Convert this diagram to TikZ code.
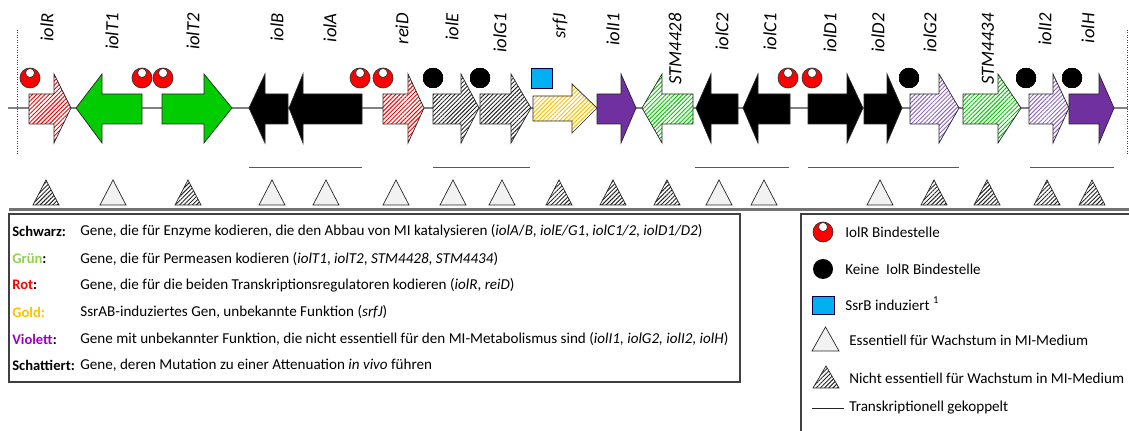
\documentclass[tikz,border=0pt]{standalone}
\usepackage{fontspec}
\setmainfont{Carlito}
\usetikzlibrary{patterns.meta}

\definecolor{genegreen}{HTML}{00CC00}
\definecolor{genered}{HTML}{FF0000}
\definecolor{genegold}{HTML}{FFC000}
\definecolor{genepurple}{HTML}{7030A0}
\definecolor{genelilac}{HTML}{8E6BBF}
\definecolor{ssrblue}{HTML}{00B0F0}
\definecolor{keygreen}{HTML}{92D050}
\definecolor{keyviolet}{HTML}{9900CC}
\definecolor{trigray}{HTML}{F2F2F2}

\tikzset{
  gene/.style={draw=black!85,line width=0.4pt},
  hatched/.style={preaction={fill=white},pattern={Lines[angle=45,distance=1.7pt,line width=0.55pt]},pattern color=#1},
  bindsite/.style={draw=black!80,fill=red},
  nobind/.style={fill=black},
  essent/.style={draw=black!85,fill=trigray},
  nonessent/.style={draw=black!85,hatched=black!85},
  coupled/.style={draw=black!65,line width=0.5pt},
  genelabel/.style={rotate=90,anchor=east,inner sep=0pt,font=\fontsize{10.6}{12}\selectfont\itshape},
  keytext/.style={anchor=west,inner sep=0pt,font=\fontsize{8.6}{10}\selectfont},
  keyword/.style={keytext,font=\fontsize{8.3}{10}\selectfont\bfseries},
}

% one gene: start of body, base of head, tip
\newcommand{\gene}[4][]{\draw[gene,#1] (#2,94) -- (#3,94) -- (#3,74) -- (#4,108) -- (#3,143) -- (#3,124) -- (#2,124) -- cycle;}
\newcommand{\iolrsite}[2]{\draw[bindsite] (#1,#2) circle (10); \draw[draw=black!80,fill=white] (#1,#2-5) circle (4.5);}

\begin{document}
\begin{tikzpicture}[x=0.02cm,y=-0.02cm]
\useasboundingbox (0,0) rectangle (1129,431);

% chromosome
\draw[black!50,line width=0.8pt] (8,108) -- (1128,108);
\draw[black!75,densely dotted] (17.7,30) -- (17.7,155);
\draw[black!75,densely dotted] (1127,30) -- (1127,155);

% genes
\gene[hatched=genered]{29}{54}{71}          % iolR
\gene[fill=genegreen]{142}{102}{76}         % iolT1
\gene[fill=genegreen]{162}{204}{232}        % iolT2
\gene[fill=black]{288}{265}{249}            % iolB
\gene[fill=black]{362}{303}{289}            % iolA
\gene[hatched=genered]{383}{408}{424}       % reiD
\gene[hatched=black!85]{433}{461}{479}      % iolE
\gene[hatched=black!85]{480}{511}{531}      % iolG1
\draw[gene,hatched=genegold] (533,96) -- (572,96) -- (572,84) -- (597,108) -- (572,133) -- (572,121) -- (533,121) -- cycle; % srfJ
\gene[fill=genepurple]{597}{621}{636}       % iolI1
\gene[hatched=genegreen]{693}{662}{642}     % STM4428
\gene[fill=black]{738}{711}{696}            % iolC2
\gene[fill=black]{790}{758}{743}            % iolC1
\gene[fill=black]{808}{847}{863}            % iolD1
\gene[fill=black]{864}{887}{902}            % iolD2
\gene[hatched=genelilac]{910}{939}{959}     % iolG2
\gene[hatched=genegreen]{963}{998}{1021}    % STM4434
\gene[hatched=genelilac]{1029}{1053}{1069}  % iolI2
\gene[fill=genepurple]{1069}{1099}{1114}    % iolH

% gene names
\foreach \name/\x in {iolR/47,iolT1/112,iolT2/193,iolB/277,iolA/330,reiD/402,iolE/452,iolG1/500,srfJ/560,iolI1/613,
  STM4428/675,iolC2/722,iolC1/770,iolD1/830,iolD2/878,iolG2/930,STM4434/988,iolI2/1045,iolH/1088}
  \node[genelabel] (l-\name) at (\x,13) {\name};

% binding sites
\foreach \x in {30,142,163,360,383,788,812} \iolrsite{\x}{78}
\foreach \x in {433,480,909,1026,1072} \fill[nobind] (\x,78) circle (10);
\draw[draw=black!70!blue,fill=ssrblue] (531,68) rectangle (552,88);

% operons
\draw[coupled] (249,167) -- (362,167);
\draw[coupled] (433,167) -- (530,167);
\draw[coupled] (695,167) -- (789,167);
\draw[coupled] (808,167) -- (959,167);
\draw[coupled] (1030,167) -- (1114,167);

% growth on MI
\foreach \x in {113,272,326,396,453,502,719,764,880}
  \draw[essent] (\x,180) -- (\x+13,205) -- (\x-13,205) -- cycle;
\foreach \x in {46,188,559,613,667,934,987,1047,1092}
  \draw[nonessent] (\x,180) -- (\x+13,205) -- (\x-13,205) -- cycle;

\draw[black!55,line width=1.2pt] (9,209.5) -- (1129,209.5);

% colour key
\draw[black!75,line width=0.6pt] (9,214) rectangle (740,382);
\node[keyword] (k-black) at (12,231) {Schwarz:};
\node[keyword] (k-green) at (12,259) {\textcolor{keygreen}{Grün}:};
\node[keyword] (k-red) at (12,285) {\textcolor{red}{Rot}:};
\node[keyword] (k-gold) at (12,312) {\textcolor{genegold}{Gold:}};
\node[keyword] (k-violet) at (12,339) {\textcolor{keyviolet}{Violett}:};
\node[keyword] (k-shade) at (12,365) {Schattiert:};
\node[keytext] (d-black) at (80,231) {Gene, die für Enzyme kodieren, die den Abbau von MI katalysieren (\textit{iolA}/\textit{B}, \textit{iolE/G1}, \textit{iolC1/2}, \textit{iolD1/D2})};
\node[keytext] (d-green) at (80,259) {Gene, die für Permeasen kodieren (\textit{iolT1}, \textit{iolT2}, \textit{STM4428}, \textit{STM4434})};
\node[keytext] (d-red) at (80,285) {Gene, die für die beiden Transkriptionsregulatoren kodieren (\textit{iolR}, \textit{reiD})};
\node[keytext] (d-gold) at (80,312) {SsrAB-induziertes Gen, unbekannte Funktion (\textit{srfJ})};
\node[keytext] (d-violet) at (80,339) {Gene mit unbekannter Funktion, die nicht essentiell für den MI-Metabolismus sind (\textit{iolI1, iolG2, iolI2, iolH})};
\node[keytext] (d-shade) at (80,365) {Gene, deren Mutation zu einer Attenuation \textit{in vivo} führen};

% symbol key
\draw[black!75,line width=0.6pt] (1129,214) -- (801,214) -- (801,431);
\iolrsite{823}{232}
\node[keytext] (s-bind) at (845,232) {IolR Bindestelle};
\fill[nobind] (823,269) circle (10);
\node[keytext] (s-nobind) at (845,269) {Keine\ \ IolR Bindestelle};
\draw[draw=black!70!blue,fill=ssrblue] (812,296) rectangle (834,314);
\node[keytext] (s-ssrb) at (845,304) {SsrB induziert \textsuperscript{1}};
\draw[essent] (825.5,327) -- (839,351) -- (812,351) -- cycle;
\node[keytext] (s-ess) at (849,340) {Essentiell für Wachstum in MI-Medium};
\draw[nonessent] (826,366) -- (839,388) -- (813,388) -- cycle;
\node[keytext] (s-noness) at (849,378) {Nicht essentiell für Wachstum in MI-Medium};
\coordinate (s-line) at (812,408);
\draw[black!85,line width=0.5pt] (s-line) -- ++(32,0);
\node[keytext] (s-coupled) at (849,408) {Transkriptionell gekoppelt};
\end{tikzpicture}
\end{document}
